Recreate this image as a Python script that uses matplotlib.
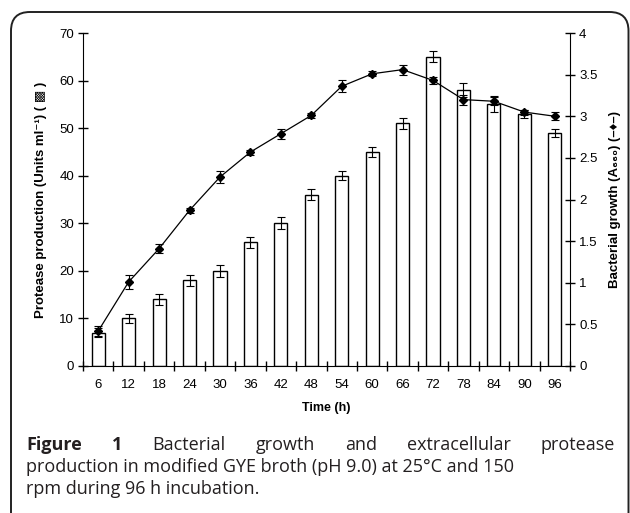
import matplotlib
matplotlib.use("Agg")
import matplotlib.pyplot as plt
from matplotlib.patches import FancyBboxPatch
import numpy as np

plt.rcParams['font.family'] = ['Liberation Sans', 'DejaVu Sans']

hours = ['6', '12', '18', '24', '30', '36', '42', '48', '54', '60', '66', '72', '78', '84', '90', '96']
protease = [7, 10, 14, 18, 20, 26, 30, 36, 40, 45, 51, 65, 58, 55, 53, 49]
protease_err = [1.0, 1.0, 1.2, 1.2, 1.3, 1.1, 1.3, 1.2, 1.0, 1.1, 1.2, 1.2, 1.4, 1.7, 0.9, 0.8]
growth = [0.42, 1.01, 1.41, 1.87, 2.27, 2.57, 2.79, 3.01, 3.36, 3.51, 3.56, 3.43, 3.20, 3.18, 3.05, 3.00]
growth_err = [0.06, 0.08, 0.05, 0.03, 0.07, 0.03, 0.06, 0.03, 0.07, 0.03, 0.06, 0.04, 0.06, 0.05, 0.03, 0.05]

caption_lines = [
    [("Figure", True), ("1", True), ("Bacterial", False), ("growth", False), ("and", False),
     ("extracellular", False), ("protease", False)],
    "production in modified GYE broth (pH 9.0) at 25°C and 150",
    "rpm during 96 h incubation.",
]

W, H = 630, 513
fig = plt.figure(figsize=(W / 100, H / 100), dpi=100)

# rounded frame around the figure, open at the bottom
frame = FancyBboxPatch((11 / W, -0.5), 617.5 / W, 1.5 - 12 / H,
                       boxstyle="round,pad=0,rounding_size=0.03", transform=fig.transFigure,
                       fill=False, edgecolor='#222222', linewidth=1.4, mutation_aspect=W / H)
fig.patches.append(frame)

ax = fig.add_axes([83 / W, 1 - 366 / H, (570 - 83) / W, (366 - 33) / H])
x = np.arange(len(hours))
ax.bar(x, protease, width=0.43, color='white', edgecolor='black', linewidth=1.0, zorder=2)
ax.errorbar(x, protease, yerr=protease_err, fmt='none', ecolor='black', elinewidth=0.8,
            capsize=3, capthick=0.8, zorder=3)
ax.set_xlim(-0.5, len(hours) - 0.5)
ax.set_ylim(0, 70)
ax.set_yticks(range(0, 71, 10))
ax.set_xticks(x)
ax.set_xticklabels(hours)
ax.set_xticks(np.arange(-0.5, len(hours)), minor=True)
ax.tick_params(axis='x', which='major', length=0, pad=9, labelsize=9.5)
ax.tick_params(axis='x', which='minor', direction='inout', length=7, width=1)
ax.tick_params(axis='y', direction='inout', length=7, width=1, labelsize=9.5, pad=3)
ax.spines['top'].set_visible(False)
ax.spines['right'].set_visible(False)
ax.set_xlabel('Time (h)', fontsize=9, fontweight='bold', labelpad=8)
ax.set_ylabel('Protease production (Units ml\u207b\u00b9) ( \u25a9 )', fontsize=9.5,
              fontweight='bold', labelpad=9)

ax2 = ax.twinx()
ax2.errorbar(x, growth, yerr=growth_err, color='black', marker='D', markersize=4.5,
             linewidth=0.9, elinewidth=0.8, capsize=3, capthick=0.8, zorder=4)
ax2.set_ylim(0, 4)
ax2.set_yticks([0, 0.5, 1, 1.5, 2, 2.5, 3, 3.5, 4])
ax2.set_yticklabels(['0', '0.5', '1', '1.5', '2', '2.5', '3', '3.5', '4'])
ax2.tick_params(axis='y', direction='inout', length=7, width=1, labelsize=9.5, pad=3)
ax2.spines['top'].set_visible(False)
ax2.spines['left'].set_visible(False)
ax2.spines['bottom'].set_visible(False)
ax2.set_ylabel('Bacterial growth (A\u2086\u2086\u2080) (\u2013\u2666\u2013)', fontsize=9.5,
               fontweight='bold', labelpad=8)

# caption, first line justified
cap_font = ['Open Sans', 'DejaVu Sans']
cap_size = 13
cap_color = '#231f20'
left, right = 26 / W, 615 / W
ys = [1 - 450 / H, 1 - 472 / H, 1 - 494 / H]
renderer = fig.canvas.get_renderer()
words = caption_lines[0]
objs = []
for w, bold in words:
    t = fig.text(0, ys[0], w, fontsize=cap_size, family=cap_font, color=cap_color,
                 fontweight='bold' if bold else 'normal', va='baseline')
    objs.append(t)
widths = [t.get_window_extent(renderer).width / W for t in objs]
gap = (right - left - sum(widths)) / (len(words) - 1)
pos = left
for t, wd in zip(objs, widths):
    t.set_x(pos)
    pos += wd + gap
for line, yy in zip(caption_lines[1:], ys[1:]):
    fig.text(left, yy, line, fontsize=cap_size, family=cap_font, color=cap_color, va='baseline')

fig.savefig('out.png', dpi=100)
